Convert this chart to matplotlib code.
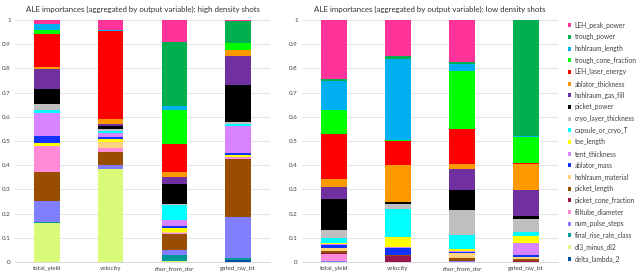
import numpy as np
import matplotlib.pyplot as plt
from matplotlib.patches import Patch

plt.rcParams['font.family'] = ['Lato', 'DejaVu Sans']

categories = ['total_yield', 'velocity', 'rhor_from_dsr', 'gated_ray_bt']

# legend order (top of stack first)
features = ['LEH_peak_power', 'trough_power', 'hohlraum_length', 'trough_cone_fraction',
            'LEH_laser_energy', 'ablator_thickness', 'hohlraum_gas_fill', 'picket_power',
            'cryo_layer_thickness', 'capsule_or_cryo_T', 'toe_length', 'tent_thickness',
            'ablator_mass', 'hohlraum_material', 'picket_length', 'picket_cone_fraction',
            'filltube_diameter', 'num_pulse_steps', 'final_rise_rate_class', 'dl3_minus_dl2',
            'delta_lambda_2']

colors = {
    'LEH_peak_power': '#FF3399', 'trough_power': '#00B050', 'hohlraum_length': '#00B0F0',
    'trough_cone_fraction': '#00FF00', 'LEH_laser_energy': '#FF0000',
    'ablator_thickness': '#FF9900', 'hohlraum_gas_fill': '#7030A0', 'picket_power': '#000000',
    'cryo_layer_thickness': '#BFBFBF', 'capsule_or_cryo_T': '#00FFFF', 'toe_length': '#FFFF00',
    'tent_thickness': '#D883FF', 'ablator_mass': '#1033FF', 'hohlraum_material': '#FFD27F',
    'picket_length': '#994D00', 'picket_cone_fraction': '#991550',
    'filltube_diameter': '#FF8AD8', 'num_pulse_steps': '#7F7FFF',
    'final_rise_rate_class': '#009999', 'dl3_minus_dl2': '#DAFA7A',
    'delta_lambda_2': '#00509E'}

# stacking order, bottom to top
order_high = ['delta_lambda_2', 'dl3_minus_dl2', 'final_rise_rate_class', 'num_pulse_steps',
              'picket_length', 'filltube_diameter', 'picket_cone_fraction', 'hohlraum_material',
              'toe_length', 'ablator_mass', 'tent_thickness', 'capsule_or_cryo_T',
              'cryo_layer_thickness', 'picket_power', 'hohlraum_gas_fill', 'ablator_thickness',
              'LEH_laser_energy', 'trough_cone_fraction', 'hohlraum_length', 'trough_power',
              'LEH_peak_power']
order_low = features[::-1]

# high density shots: values per category (total_yield, velocity, rhor, gated)
high = {
    'delta_lambda_2':        [0.000, 0.000, 0.000, 0.010],
    'dl3_minus_dl2':         [0.162, 0.383, 0.005, 0.000],
    'final_rise_rate_class': [0.002, 0.000, 0.023, 0.005],
    'num_pulse_steps':       [0.090, 0.018, 0.020, 0.173],
    'picket_length':         [0.116, 0.052, 0.066, 0.238],
    'filltube_diameter':     [0.109, 0.017, 0.006, 0.009],
    'picket_cone_fraction':  [0.000, 0.000, 0.000, 0.000],
    'hohlraum_material':     [0.002, 0.025, 0.004, 0.000],
    'toe_length':            [0.010, 0.014, 0.017, 0.009],
    'ablator_mass':          [0.030, 0.007, 0.006, 0.008],
    'tent_thickness':        [0.094, 0.018, 0.026, 0.112],
    'capsule_or_cryo_T':     [0.014, 0.009, 0.062, 0.008],
    'cryo_layer_thickness':  [0.025, 0.007, 0.006, 0.007],
    'picket_power':          [0.062, 0.010, 0.080, 0.154],
    'hohlraum_gas_fill':     [0.080, 0.011, 0.032, 0.120],
    'ablator_thickness':     [0.008, 0.018, 0.020, 0.021],
    'LEH_laser_energy':      [0.140, 0.365, 0.116, 0.000],
    'trough_cone_fraction':  [0.014, 0.002, 0.139, 0.033],
    'hohlraum_length':       [0.025, 0.003, 0.018, 0.000],
    'trough_power':          [0.002, 0.001, 0.265, 0.088],
    'LEH_peak_power':        [0.015, 0.040, 0.089, 0.005],
}

# low density shots
low = {
    'delta_lambda_2':        [0.000, 0.000, 0.000, 0.000],
    'dl3_minus_dl2':         [0.000, 0.000, 0.000, 0.000],
    'final_rise_rate_class': [0.000, 0.000, 0.000, 0.000],
    'num_pulse_steps':       [0.004, 0.000, 0.003, 0.000],
    'filltube_diameter':     [0.029, 0.000, 0.000, 0.000],
    'picket_cone_fraction':  [0.003, 0.025, 0.003, 0.003],
    'picket_length':         [0.009, 0.004, 0.011, 0.008],
    'hohlraum_material':     [0.013, 0.000, 0.021, 0.009],
    'ablator_mass':          [0.012, 0.030, 0.004, 0.009],
    'tent_thickness':        [0.006, 0.003, 0.004, 0.050],
    'toe_length':            [0.003, 0.040, 0.007, 0.027],
    'capsule_or_cryo_T':     [0.022, 0.116, 0.057, 0.016],
    'cryo_layer_thickness':  [0.032, 0.023, 0.104, 0.054],
    'picket_power':          [0.129, 0.006, 0.083, 0.014],
    'hohlraum_gas_fill':     [0.047, 0.003, 0.087, 0.108],
    'ablator_thickness':     [0.033, 0.150, 0.022, 0.108],
    'LEH_laser_energy':      [0.188, 0.098, 0.143, 0.004],
    'trough_cone_fraction':  [0.100, 0.005, 0.242, 0.105],
    'hohlraum_length':       [0.116, 0.337, 0.027, 0.006],
    'trough_power':          [0.010, 0.010, 0.007, 0.480],
    'LEH_peak_power':        [0.244, 0.150, 0.175, 0.000],
}

fig = plt.figure(figsize=(6.4, 2.73), dpi=100)
ax1 = fig.add_axes([15/640, 1-262/273, 255/640, 242/273])
ax2 = fig.add_axes([302/640, 1-262/273, 256/640, 242/273])

x = np.arange(len(categories))


def draw(ax, data, order, title):
    bottom = np.zeros(len(categories))
    for f in order:
        v = np.array(data[f])
        ax.bar(x, v, 0.4, bottom=bottom, color=colors[f], linewidth=0)
        bottom += v
    ax.set_xlim(-0.5, 3.5)
    ax.set_ylim(0, 1)
    ax.set_yticks(np.arange(0, 1.01, 0.1))
    ax.set_yticklabels(['0', '0.1', '0.2', '0.3', '0.4', '0.5', '0.6', '0.7', '0.8', '0.9', '1'])
    ax.set_xticks(x)
    ax.set_xticklabels(categories)
    ax.tick_params(length=0, labelsize=4.5, colors='#404040', pad=3)
    ax.yaxis.grid(True, color='#E3E3E3', linewidth=0.7)
    ax.set_axisbelow(True)
    for s in ['top', 'right', 'left']:
        ax.spines[s].set_visible(False)
    ax.spines['bottom'].set_color('#D9D9D9')
    ax.spines['bottom'].set_linewidth(0.7)
    ax.set_title(title, fontsize=5.7, color='#333333', pad=6)


draw(ax1, high, order_high, 'ALE importances (aggregated by output variable): high density shots')
draw(ax2, low, order_low, 'ALE importances (aggregated by output variable): low density shots')

handles = [Patch(facecolor=colors[f], label=f) for f in features]
fig.legend(handles=handles, loc='upper left', bbox_to_anchor=(565/640, 1-19/273),
           frameon=False, fontsize=4.8, handlelength=0.55, handleheight=0.55,
           handletextpad=0.5, labelspacing=0.7, borderaxespad=0, labelcolor='#404040')

fig.savefig('out.png', dpi=100)
